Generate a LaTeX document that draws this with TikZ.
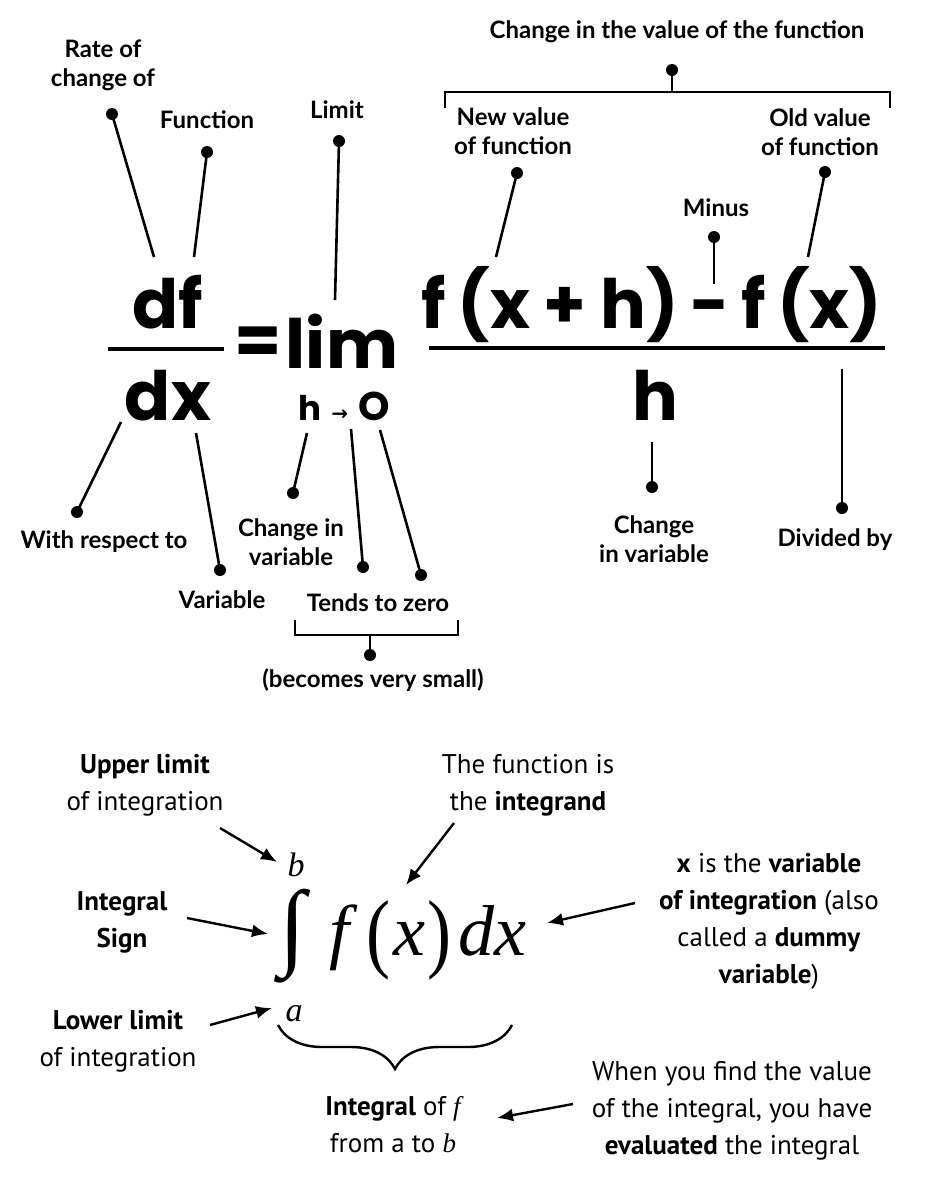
\documentclass[tikz,border=0pt]{standalone}
\usepackage{fontspec}
\usepackage{graphicx}
\setmainfont{Lato}
\newfontfamily\bigfont{Poppins}
\newfontfamily\notefont{PT Sans}
\newfontfamily\mathserif{Liberation Serif}
\newfontfamily\arrowfont{DejaVu Sans}
\newcommand\gap[1]{\hspace{#1em}}
\newcommand\tallparen[1]{\raisebox{-3pt}{\scalebox{1}[1.22]{#1}}}
\usetikzlibrary{arrows.meta,decorations.pathreplacing}

\begin{document}
\begin{tikzpicture}[x=0.5pt,y=-0.5pt,
  >={Latex[length=8pt,width=6.5pt]},
  every node/.style={align=center,inner sep=0pt},
  tag/.style={font=\bfseries\fontsize{12}{14.5}\selectfont},
  hint/.style={font=\notefont\fontsize{13.5}{18.5}\selectfont},
  big/.style={font=\bigfont\bfseries\fontsize{34}{36}\selectfont,anchor=base},
  serifmath/.style={font=\mathserif\fontsize{17}{17}\selectfont\itshape},
  knob/.style={circle,fill,minimum size=6pt},
  lead/.style={line width=1.3pt},
  pointer/.style={->,line width=1.2pt},
  curly/.style={decorate,line width=1.2pt,
    decoration={brace,mirror,amplitude=22pt}}]
  \path[fill=white] (0,0) rectangle (935,1200);
  \useasboundingbox (0,0) rectangle (935,1200);

  \node[big] (df) at (168,328) {df};
  \node[big] (dx) at (168,420) {dx};
  \node[big] (eq) at (258,364) {=};
  \node[big] (lim) at (342,368) {lim};
  \node[big,font=\bigfont\bfseries\fontsize{17}{18}\selectfont] (hto) at (344,420)
    {h\gap{.3}{\arrowfont\fontsize{10}{10}\selectfont →}\gap{.3}{\fontsize{20}{20}\selectfont O}};
  \node[big] (num) at (652,328)
    {f\gap{.17}(x\gap{.2}+\gap{.2}h)\gap{.17}-\gap{.17}f\gap{.17}(x)};
  \node[big] (hden) at (655,420) {h};
  \draw[line width=2pt] (108,349) -- (224,349);
  \draw[line width=1.7pt] (429,348) -- (885,348);

  \node[tag] (rate) at (103,65) {Rate of\\change of};
  \node[tag] (function) at (207,120) {Function};
  \node[tag] (limit) at (337,110) {Limit};
  \node[tag] (change) at (677,32) {Change in the value of the function};
  \node[tag] (newval) at (513,131) {New value\\of function};
  \node[tag] (oldval) at (820,132) {Old value\\of function};
  \node[tag] (minus) at (716,208) {Minus};
  \node[tag] (wrt) at (104,542) {With respect to};
  \node[tag] (variable) at (222,600) {Variable};
  \node[tag] (chvar) at (291,542) {Change in\\variable};
  \node[tag] (tends) at (378,603) {Tends to zero};
  \node[tag] (small) at (373,680) {(becomes very small)};
  \node[tag] (hchange) at (654,539) {Change\\in variable};
  \node[tag] (divided) at (835,540) {Divided by};

  \node[knob] (rateDot) at (112,114) {};
  \node[knob] (functionDot) at (207,152) {};
  \node[knob] (limitDot) at (339,141) {};
  \node[knob] (changeDot) at (672,70) {};
  \node[knob] (newDot) at (517,173) {};
  \node[knob] (oldDot) at (825,172) {};
  \node[knob] (minusDot) at (714,237) {};
  \node[knob] (wrtDot) at (77,512) {};
  \node[knob] (variableDot) at (220,570) {};
  \node[knob] (chvarDot) at (293,493) {};
  \node[knob] (tendsDotA) at (363,567) {};
  \node[knob] (tendsDotB) at (421,575) {};
  \node[knob] (smallDot) at (370,655) {};
  \node[knob] (hchangeDot) at (652,487) {};
  \node[knob] (dividedDot) at (842,508) {};

  \coordinate (rateEnd) at (154,257);
  \coordinate (functionEnd) at (194,257);
  \coordinate (limitEnd) at (335,300);
  \coordinate (changeLeft) at (445,108);
  \coordinate (changeRight) at (890,108);
  \coordinate (changeMid) at (672,92);
  \coordinate (newEnd) at (496,257);
  \coordinate (oldEnd) at (808,257);
  \coordinate (minusEnd) at (714,284);
  \coordinate (wrtEnd) at (121,422);
  \coordinate (variableEnd) at (196,433);
  \coordinate (chvarEnd) at (307,433);
  \coordinate (tendsEndA) at (351,429);
  \coordinate (tendsEndB) at (380,430);
  \coordinate (tendsLeft) at (295,620);
  \coordinate (tendsRight) at (458,620);
  \coordinate (tendsMid) at (370,635);
  \coordinate (hchangeEnd) at (652,442);
  \coordinate (dividedEnd) at (842,369);

  \draw[lead] (rateDot.center) -- (rateEnd);
  \draw[lead] (functionDot.center) -- (functionEnd);
  \draw[lead] (limitDot.center) -- (limitEnd);
  \draw[lead] (changeLeft) -- ++(0,-16) -| (changeRight);
  \draw[lead] (changeMid) -- (changeDot.center);
  \draw[lead] (newDot.center) -- (newEnd);
  \draw[lead] (oldDot.center) -- (oldEnd);
  \draw[lead] (minusDot.center) -- (minusEnd);
  \draw[lead] (wrtDot.center) -- (wrtEnd);
  \draw[lead] (variableDot.center) -- (variableEnd);
  \draw[lead] (chvarDot.center) -- (chvarEnd);
  \draw[lead] (tendsDotA.center) -- (tendsEndA);
  \draw[lead] (tendsDotB.center) -- (tendsEndB);
  \draw[lead] (tendsLeft) -- ++(0,15) -| (tendsRight);
  \draw[lead] (tendsMid) -- (smallDot.center);
  \draw[lead] (hchangeDot.center) -- (hchangeEnd);
  \draw[lead] (dividedDot.center) -- (dividedEnd);

  \node (intsign) at (293,936) {\resizebox*{!}{47pt}{\mathserif ∫}};
  \node[serifmath] (upper) at (296,865) {b};
  \node[serifmath] (lower) at (294,1014) {a};
  \node[anchor=base,font=\mathserif\fontsize{36}{36}\selectfont] (integrand) at (428,955)
    {\textit{f}\gap{.12}\tallparen{(}\gap{.05}\textit{x}\gap{.03}\tallparen{)}\gap{.1}\textit{dx}};

  \node[hint] (upperlim) at (145,785) {\textbf{Upper limit}\\of integration};
  \node[hint] (sign) at (122,922) {\textbf{Integral}\\\textbf{Sign}};
  \node[hint] (lowerlim) at (118,1041) {\textbf{Lower limit}\\of integration};
  \node[hint] (integrandnote) at (528,785) {The function is\\the \textbf{integrand}};
  \node[hint] (varnote) at (769,921)
    {\textbf{x} is the \textbf{variable}\\\textbf{of integration} (also\\called a \textbf{dummy}\\\textbf{variable})};
  \node[hint] (fromto) at (393,1125)
    {\textbf{Integral} of {\mathserif\itshape f}\\from a to {\mathserif\itshape b}};
  \node[hint] (evalnote) at (732,1111)
    {When you find the value\\of the integral, you have\\\textbf{evaluated} the integral};

  \coordinate (upperStart) at (220,828);
  \coordinate (upperTip) at (277,862);
  \coordinate (signStart) at (187,918);
  \coordinate (signTip) at (268,934);
  \coordinate (lowerStart) at (210,1025);
  \coordinate (lowerTip) at (272,1008);
  \coordinate (integrandStart) at (454,823);
  \coordinate (integrandTip) at (406,885);
  \coordinate (varStart) at (635,903);
  \coordinate (varTip) at (547,923);
  \coordinate (evalStart) at (573,1104);
  \coordinate (evalTip) at (497,1118);
  \coordinate (braceLeft) at (278,1025);
  \coordinate (braceRight) at (512,1025);

  \draw[pointer] (upperStart) -- (upperTip);
  \draw[pointer] (signStart) -- (signTip);
  \draw[pointer] (lowerStart) -- (lowerTip);
  \draw[pointer] (integrandStart) -- (integrandTip);
  \draw[pointer] (varStart) -- (varTip);
  \draw[pointer] (evalStart) -- (evalTip);
  \draw[curly] (braceLeft) -- (braceRight);
\end{tikzpicture}
\end{document}
